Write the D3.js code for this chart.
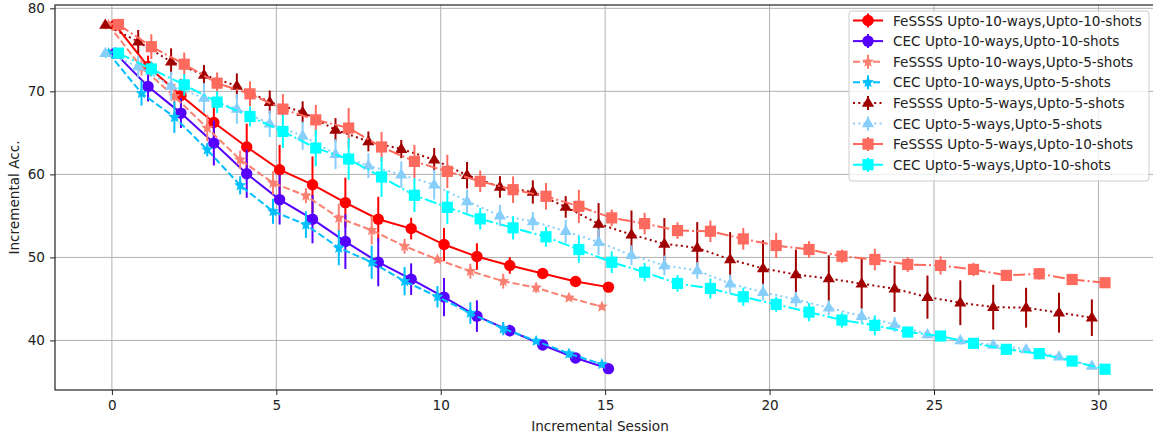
<!DOCTYPE html>
<html><head><meta charset="utf-8">
<script src="https://cdn.jsdelivr.net/npm/d3@7/dist/d3.min.js"></script>
<style>body{margin:0;background:#fff}svg{display:block}text{font-family:"DejaVu Sans",sans-serif}</style>
</head><body>
<svg id="chart" width="1153" height="440"></svg>
<script>
const seriesNames = [
  "FeSSSS Upto-10-ways,Upto-10-shots",
  "CEC Upto-10-ways,Upto-10-shots",
  "FeSSSS Upto-10-ways,Upto-5-shots",
  "CEC Upto-10-ways,Upto-5-shots",
  "FeSSSS Upto-5-ways,Upto-5-shots",
  "CEC Upto-5-ways,Upto-5-shots",
  "FeSSSS Upto-5-ways,Upto-10-shots",
  "CEC Upto-5-ways,Upto-10-shots"
];
const xTicks = [0, 5, 10, 15, 20, 25, 30];
const yTicks = [40, 50, 60, 70, 80];

const fe10w10s = [78.0,73.0,69.5,66.25,63.3,60.56,58.76,56.6,54.6,53.47,51.55,50.1,49.03,48.07,47.1,46.42];
const fe10w10sErr = [0.2,1.3,2.0,1.9,2.8,3.0,3.4,3.0,2.7,1.3,2.0,1.6,1.0,0.5,0.4,0.3];
const cec10w10s = [74.6,70.58,67.38,63.77,60.08,56.96,54.6,51.91,49.42,47.38,45.22,42.93,41.18,39.45,37.88,36.6];
const cec10w10sErr = [0.2,1.8,1.8,2.7,2.9,3.0,2.9,3.3,2.9,1.9,2.3,1.9,0.7,0.6,0.5,0.2];
const fe10w5s = [78.0,72.9,69.4,65.58,61.77,58.97,57.44,54.76,53.27,51.35,49.75,48.34,47.14,46.35,45.14,44.06];
const fe10w5sErr = [0.2,1.0,1.5,1.6,1.1,1.4,0.9,1.7,1.7,0.9,0.4,0.9,0.9,0.6,0.3,0.3];
const cec10w5s = [74.6,69.78,66.9,62.97,58.68,55.55,53.95,51.15,49.42,47.14,45.26,43.3,41.42,39.93,38.41,37.13];
const cec10w5sErr = [0.2,1.5,1.9,0.8,1.1,1.5,1.6,2.1,2.0,1.7,1.3,1.3,0.8,0.4,0.5,0.3];
const fe5w5s = [78.0,75.99,73.58,71.98,70.66,68.7,67.5,65.37,63.97,63.05,61.77,59.9,58.49,57.88,56.08,54.04,52.75,51.63,51.15,49.75,48.67,47.94,47.46,46.83,46.23,45.22,44.54,44.01,43.94,43.34,42.74];
const fe5w5sErr = [0.3,1.4,1.6,1.2,1.5,1.4,1.3,1.4,1.2,1.1,1.4,1.6,1.3,1.4,1.3,2.5,2.9,3.1,3.1,3.3,3.4,3.0,2.8,3.0,2.8,2.6,2.7,2.7,2.4,2.4,2.2];
const cec5w5s = [74.6,73.0,70.66,69.2,67.9,66.1,64.65,62.45,61.05,59.96,58.76,56.76,55.04,54.35,53.15,51.85,50.26,49.03,48.43,46.83,45.82,44.94,43.94,42.93,41.93,40.73,40.0,39.45,38.93,38.05,36.92];
const cec5w5sErr = [0.3,1.3,1.7,1.8,1.8,1.6,1.7,1.8,1.5,1.6,1.8,1.4,1.3,1.1,1.4,1.6,1.2,1.2,1.0,1.1,1.0,0.9,0.9,0.9,0.9,0.5,0.5,0.4,0.3,0.4,0.3];
const fe5w10s = [78.05,75.38,73.27,70.98,69.7,67.86,66.57,65.58,63.3,61.56,60.36,59.16,58.16,57.36,56.15,54.76,54.07,53.23,53.15,52.23,51.43,50.95,50.14,49.75,49.15,49.03,48.55,47.83,48.03,47.34,46.95];
const fe5w10sErr = [0.3,1.5,1.4,1.3,1.5,1.8,1.8,2.4,1.8,2.0,2.0,1.3,1.6,1.6,2.0,1.0,1.3,1.0,1.3,1.3,1.5,1.0,0.8,1.3,0.9,1.1,0.8,0.4,0.7,0.5,0.3];
const cec5w10s = [74.6,72.7,70.78,68.7,66.97,65.17,63.17,61.85,59.69,57.48,56.03,54.64,53.56,52.48,50.95,49.42,48.22,46.86,46.26,45.26,44.34,43.41,42.45,41.81,41.01,40.53,39.65,38.93,38.41,37.52,36.53];
const cec5w10sErr = [0.3,0.9,1.3,1.3,1.2,2.0,2.2,2.5,2.4,2.0,2.0,1.3,1.4,1.2,1.6,1.3,1.1,1.0,1.2,1.1,0.9,1.1,0.9,1.2,0.5,0.6,0.4,0.3,0.3,0.3,0.3];

const seriesValues = [fe10w10s, cec10w10s, fe10w5s, cec10w5s, fe5w5s, cec5w5s, fe5w10s, cec5w10s];
const seriesErrors = [fe10w10sErr, cec10w10sErr, fe10w5sErr, cec10w5sErr, fe5w5sErr, cec5w5sErr, fe5w10sErr, cec5w10sErr];
const seriesOffsets = [0.1, 0.1, -0.1, -0.1, -0.2, -0.2, 0.2, 0.2];

const styles = [
  {color:"#ff0000", dash:null, marker:"circle"},
  {color:"#5500ff", dash:null, marker:"circle"},
  {color:"#fa8072", dash:"7,3", marker:"star"},
  {color:"#00bfff", dash:"7,3", marker:"star"},
  {color:"#a00000", dash:"2,3.3", marker:"triangle"},
  {color:"#87cefa", dash:"2,3.3", marker:"triangle"},
  {color:"#ff6a5e", dash:"12,3,2,3", marker:"square"},
  {color:"#00ffff", dash:"12,3,2,3", marker:"square"}
];

const FS = 13.6;
const svg = d3.select("#chart");
const L = 55, R = 1155, T = 5, B = 390;
const x = d3.scaleLinear().domain([-1.73, 31.72]).range([L, R]);
const y = d3.scaleLinear().domain([34.03, 80.4]).range([B, T]);

svg.append("defs").append("clipPath").attr("id","clip")
  .append("rect").attr("x",L).attr("y",T).attr("width",R-L).attr("height",B-T);

// grid
const grid = svg.append("g");
grid.selectAll("line.gx").data(xTicks).join("line")
  .attr("x1",d=>x(d)).attr("x2",d=>x(d)).attr("y1",T).attr("y2",B)
  .attr("stroke","#b0b0b0").attr("stroke-width",1);
grid.selectAll("line.gy").data(yTicks).join("line")
  .attr("x1",L).attr("x2",R).attr("y1",d=>y(d)).attr("y2",d=>y(d))
  .attr("stroke","#b0b0b0").attr("stroke-width",1);

function markerPath(type, size) {
  if (type === "circle") return d3.symbol(d3.symbolCircle, size*size*Math.PI)();
  if (type === "square") { const h=size; return `M${-h},${-h}H${h}V${h}H${-h}Z`; }
  if (type === "triangle") { const r=size*1.15; return `M0,${-r}L${r*0.95},${r*0.6}L${-r*0.95},${r*0.6}Z`; }
  if (type === "star") {
    const ro=size*1.2, ri=ro*0.45; let p="";
    for (let i=0;i<10;i++){const a=-Math.PI/2+i*Math.PI/5; const r=i%2?ri:ro; p+=(i?"L":"M")+(r*Math.cos(a)).toFixed(2)+","+(r*Math.sin(a)).toFixed(2);}
    return p+"Z";
  }
}
const markerSize = {circle:5.7, square:5.6, triangle:5.6, star:5.2};

const plot = svg.append("g").attr("clip-path","url(#clip)");
seriesValues.forEach((vals, si) => {
  const st = styles[si], off = seriesOffsets[si], errs = seriesErrors[si];
  const pts = vals.map((v,i)=>({x:i+off, y:v, e:errs[i]}));
  const g = plot.append("g");
  g.append("path").datum(pts)
    .attr("d", d3.line().x(d=>x(d.x)).y(d=>y(d.y)))
    .attr("fill","none").attr("stroke",st.color).attr("stroke-width",2)
    .attr("stroke-dasharray", st.dash);
  g.selectAll("line.err").data(pts).join("line")
    .attr("x1",d=>x(d.x)).attr("x2",d=>x(d.x))
    .attr("y1",d=>y(d.y-d.e)).attr("y2",d=>y(d.y+d.e))
    .attr("stroke",st.color).attr("stroke-width",2);
  g.selectAll("path.mk").data(pts).join("path")
    .attr("transform",d=>`translate(${x(d.x)},${y(d.y)})`)
    .attr("d", markerPath(st.marker, markerSize[st.marker]))
    .attr("fill",st.color);
});

// axes
const xAxis = svg.append("g").attr("transform",`translate(0,${B})`)
  .call(d3.axisBottom(x).tickValues(xTicks).tickSize(5).tickPadding(5).tickFormat(d3.format("d")));
const yAxis = svg.append("g").attr("transform",`translate(${L},0)`)
  .call(d3.axisLeft(y).tickValues(yTicks).tickSize(5).tickPadding(5).tickFormat(d3.format("d")));
[xAxis,yAxis].forEach(a=>{
  a.select(".domain").remove();
  a.selectAll("text").attr("font-size",FS).attr("fill","#222").attr("font-family","DejaVu Sans");
  a.selectAll("line").attr("stroke","#222");
});
// spines
svg.append("rect").attr("x",L).attr("y",T).attr("width",R-L).attr("height",B-T)
  .attr("fill","none").attr("stroke","#222").attr("stroke-width",1.2);

svg.append("text").attr("x",(L+R)/2-5).attr("y",431).attr("text-anchor","middle")
  .attr("font-size",FS).attr("fill","#222").text("Incremental Session");
svg.append("text").attr("transform",`translate(19,${(T+B)/2}) rotate(-90)`).attr("text-anchor","middle")
  .attr("font-size",FS).attr("fill","#222").text("Incremental Acc.");

// legend
const lg = svg.append("g");
lg.append("rect").attr("x",849).attr("y",11).attr("width",300).attr("height",170).attr("rx",3)
  .attr("fill","#fff").attr("fill-opacity",0.8).attr("stroke","#cccccc");
seriesNames.forEach((name, si) => {
  const st = styles[si];
  const cy = 20.5 + si*20.6;
  const row = lg.append("g");
  row.append("line").attr("x1",853).attr("x2",883).attr("y1",cy).attr("y2",cy)
    .attr("stroke",st.color).attr("stroke-width",2).attr("stroke-dasharray",st.dash);
  row.append("line").attr("x1",868).attr("x2",868).attr("y1",cy-7).attr("y2",cy+7)
    .attr("stroke",st.color).attr("stroke-width",2);
  row.append("path").attr("transform",`translate(868,${cy})`)
    .attr("d",markerPath(st.marker, markerSize[st.marker])).attr("fill",st.color);
  row.append("text").attr("x",893).attr("y",cy+5).attr("font-size",FS).attr("fill","#222").text(name);
});
</script>
</body></html>
